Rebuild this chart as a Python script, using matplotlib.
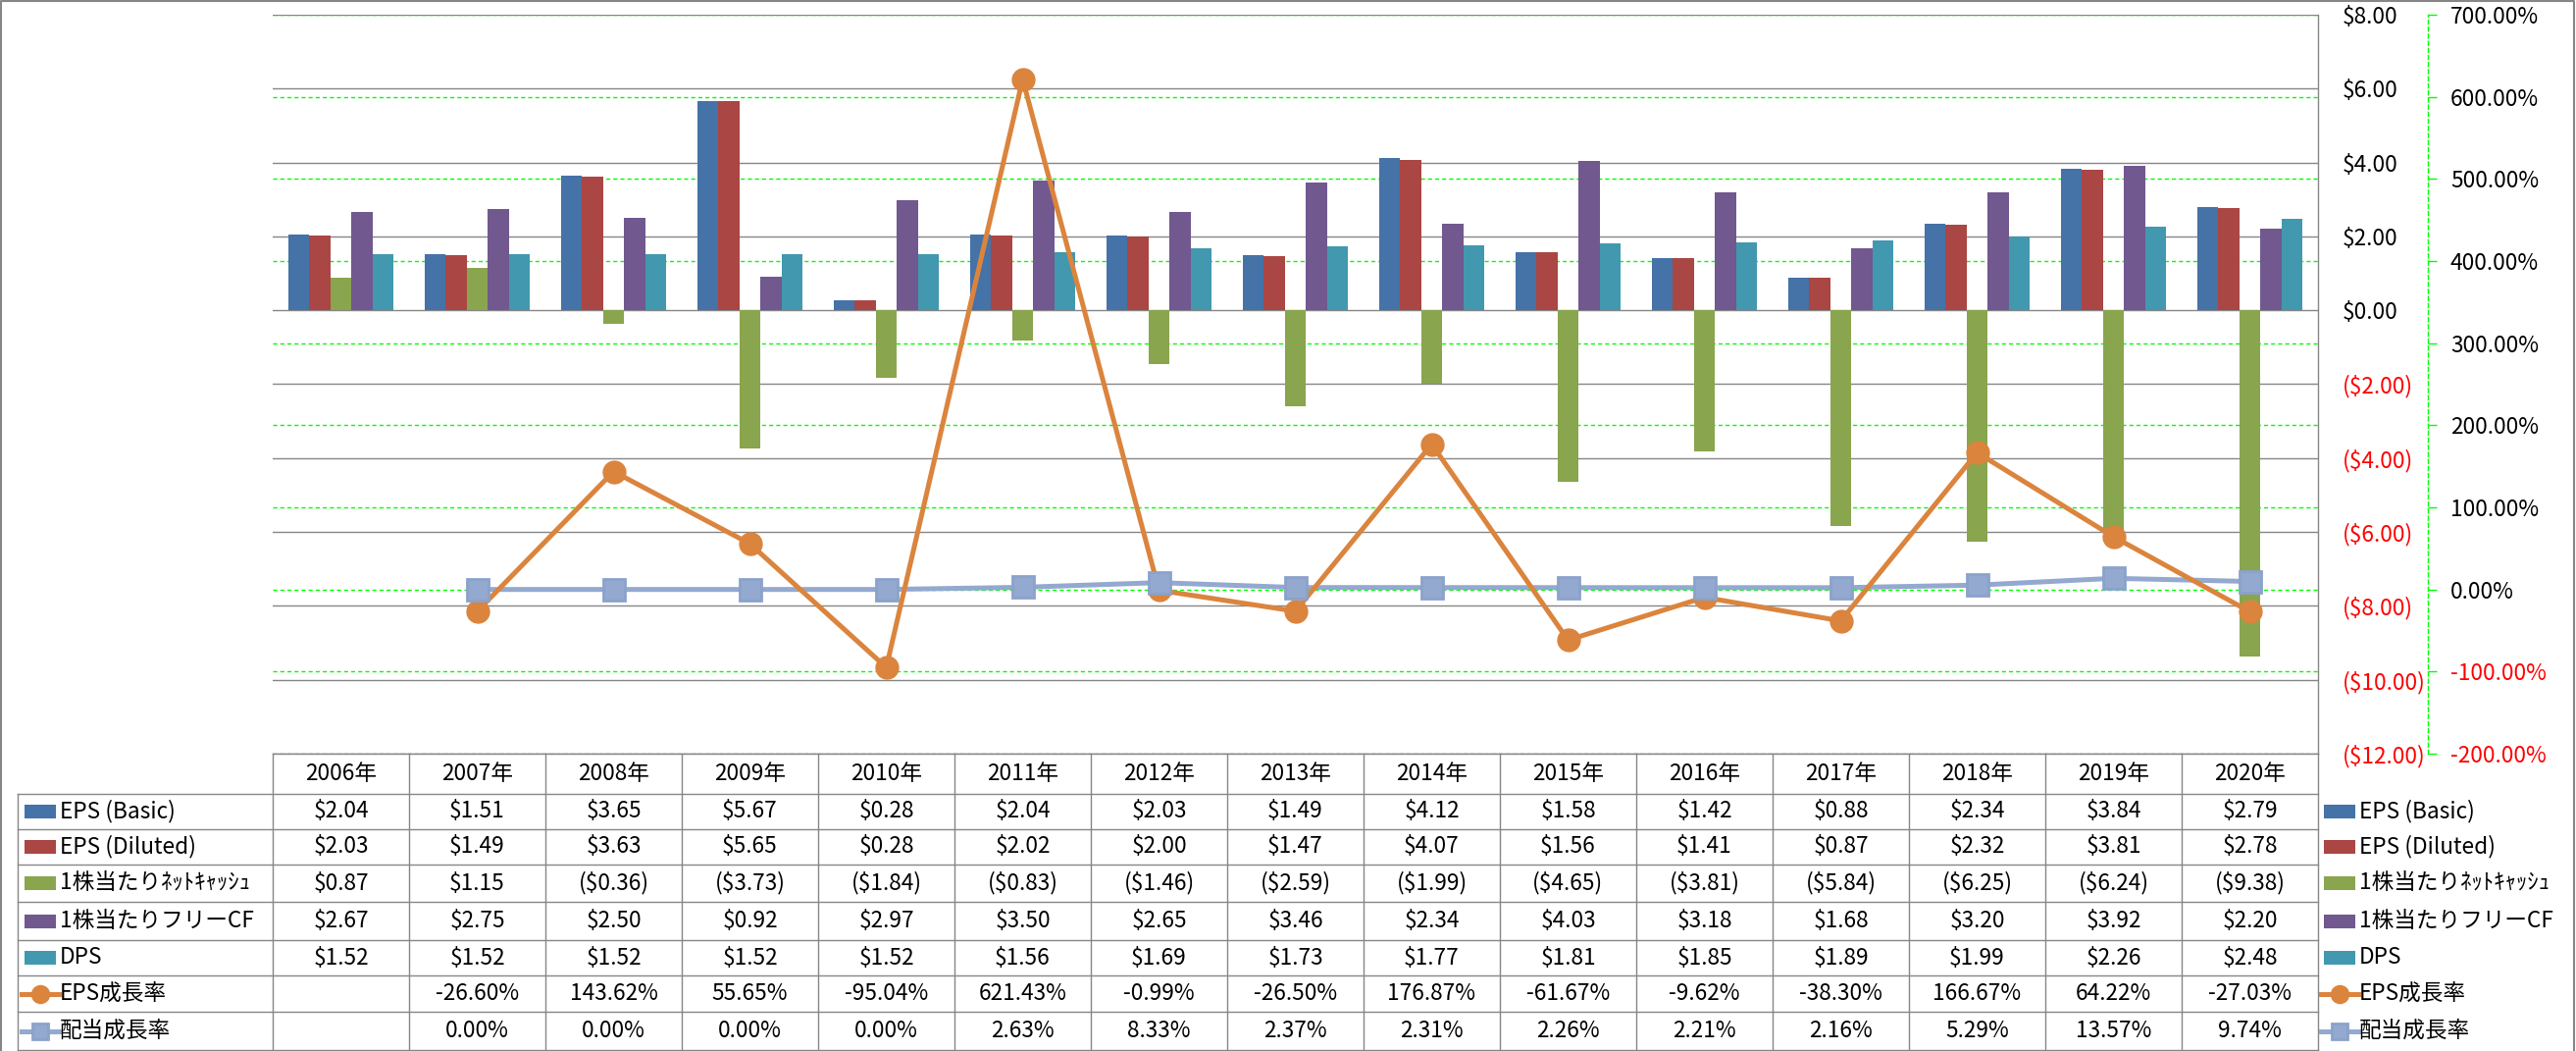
import numpy as np
import matplotlib
matplotlib.use('Agg')
import matplotlib.pyplot as plt
from matplotlib.patches import Rectangle
from matplotlib.lines import Line2D
from matplotlib.transforms import Bbox, TransformedBbox

plt.rcParams['font.family'] = ['Noto Sans CJK JP', 'DejaVu Sans']

years = ['2006年', '2007年', '2008年', '2009年', '2010年', '2011年', '2012年', '2013年',
         '2014年', '2015年', '2016年', '2017年', '2018年', '2019年', '2020年']
eps_basic = [2.04, 1.51, 3.65, 5.67, 0.28, 2.04, 2.03, 1.49, 4.12, 1.58, 1.42, 0.88, 2.34, 3.84, 2.79]
eps_diluted = [2.03, 1.49, 3.63, 5.65, 0.28, 2.02, 2.00, 1.47, 4.07, 1.56, 1.41, 0.87, 2.32, 3.81, 2.78]
net_cash = [0.87, 1.15, -0.36, -3.73, -1.84, -0.83, -1.46, -2.59, -1.99, -4.65, -3.81, -5.84, -6.25, -6.24, -9.38]
free_cf = [2.67, 2.75, 2.50, 0.92, 2.97, 3.50, 2.65, 3.46, 2.34, 4.03, 3.18, 1.68, 3.20, 3.92, 2.20]
dps = [1.52, 1.52, 1.52, 1.52, 1.52, 1.56, 1.69, 1.73, 1.77, 1.81, 1.85, 1.89, 1.99, 2.26, 2.48]
eps_growth = [None, -26.60, 143.62, 55.65, -95.04, 621.43, -0.99, -26.50, 176.87, -61.67, -9.62, -38.30, 166.67, 64.22, -27.03]
div_growth = [None, 0.00, 0.00, 0.00, 0.00, 2.63, 8.33, 2.37, 2.31, 2.26, 2.21, 2.16, 5.29, 13.57, 9.74]

bar_names = ['EPS (Basic)', 'EPS (Diluted)', '1株当たりﾈｯﾄｷｬｯｼｭ', '1株当たりフリーCF', 'DPS']
bar_data = [eps_basic, eps_diluted, net_cash, free_cf, dps]
bar_colors = ['#4572A7', '#AA4643', '#89A54E', '#71588F', '#4198AF']
line_names = ['EPS成長率', '配当成長率']
orange = '#DB843D'
lblue = '#93A9CF'
grid_gray = '#868686'
green = '#00FF00'
FS = 16.3

W, H = 2626, 1071
fig = plt.figure(figsize=(W / 100, H / 100), dpi=100)

# plot area in pixels
PL, PR, PT, PB = 278, 2363, 15, 768
rect = [PL / W, 1 - PB / H, (PR - PL) / W, (PB - PT) / H]

x = np.arange(len(years))

# secondary axis (percent) - only grid / axis, sits at the back
ax_g = fig.add_axes(rect)
ax_g.set_zorder(0)
ax_g.set_xlim(-0.5, len(years) - 0.5)
ax_g.set_ylim(-200, 700)
pct_ticks = list(range(-200, 701, 100))
ax_g.set_yticks(pct_ticks, ['%.2f%%' % t for t in pct_ticks])
ax_g.set_xticks([])
ax_g.yaxis.tick_right()
ax_g.yaxis.grid(True, color=green, linestyle=(0, (3, 2.2)), lw=1)
for s in ['left', 'top', 'bottom']:
    ax_g.spines[s].set_visible(False)
ax_g.spines['right'].set_position(('outward', 80.6))
ax_g.spines['right'].set_color(green)
ax_g.spines['right'].set_linestyle((0, (3, 2.2)))
ax_g.spines['right'].set_linewidth(1)
ax_g.tick_params(axis='y', length=6.5, color=green, width=1, pad=10, labelsize=FS)
for t, lab in zip(pct_ticks, ax_g.get_yticklabels()):
    lab.set_color('red' if t < 0 else 'black')

# primary axis (dollars) with bars
ax = fig.add_axes(rect)
ax.set_zorder(1)
ax.patch.set_visible(False)
ax.set_xlim(-0.5, len(years) - 0.5)
ax.set_ylim(-12, 8)
usd_ticks = list(range(-12, 9, 2))
ax.set_yticks(usd_ticks, [('($%.2f)' % -t) if t < 0 else ('$%.2f' % t) for t in usd_ticks])
ax.set_xticks([])
ax.yaxis.tick_right()
ax.set_axisbelow(True)
ax.yaxis.grid(True, color=grid_gray, lw=1)
for s in ['left', 'top', 'bottom']:
    ax.spines[s].set_visible(False)
ax.spines['right'].set_color(grid_gray)
ax.spines['right'].set_linewidth(1)
ax.tick_params(axis='y', length=0, pad=18, labelsize=FS)
for t, lab in zip(usd_ticks, ax.get_yticklabels()):
    lab.set_color('red' if t < 0 else 'black')

w = 0.154
for k in range(5):
    ax.bar(x + (k - 2) * w, bar_data[k], w, color=bar_colors[k], zorder=2)

# growth lines on the percent scale
ax2 = fig.add_axes(rect)
ax2.set_zorder(2)
ax2.patch.set_visible(False)
ax2.set_xlim(-0.5, len(years) - 0.5)
ax2.set_ylim(-200, 700)
ax2.axis('off')
xs = x[1:]
ax2.plot(xs, div_growth[1:], color=lblue, lw=3.6, zorder=2, solid_capstyle='round')
ax2.plot(xs, eps_growth[1:], color=orange, lw=3.6, zorder=3, solid_capstyle='round')
ax2.plot(xs, eps_growth[1:], ls='none', marker='o', ms=16.5, color=orange, zorder=4)
ax2.plot(xs, div_growth[1:], ls='none', marker='s', ms=15.5, mfc=lblue, mec='#8BA2CB',
         mew=2, zorder=5)

# canvas in pixel coordinates for the data table and legend
axc = fig.add_axes([0, 0, 1, 1])
axc.set_zorder(3)
axc.patch.set_visible(False)
axc.set_xlim(0, W)
axc.set_ylim(H, 0)
axc.axis('off')

row_edges = [768, 809, 845, 881, 919, 958, 994, 1031, 1070]
col_w = (PR - PL) / len(years)
col_edges = [PL + col_w * k for k in range(len(years) + 1)]
TL = 18

axc.plot([PL, PR], [row_edges[0], row_edges[0]], color=grid_gray, lw=1)
for y in row_edges[1:]:
    axc.plot([TL, PR], [y, y], color=grid_gray, lw=1)
axc.plot([TL, TL], [row_edges[1], row_edges[-1]], color=grid_gray, lw=1)
for cx in col_edges:
    axc.plot([cx, cx], [row_edges[0], row_edges[-1]], color=grid_gray, lw=1)

# header
for i, yr in enumerate(years):
    axc.text(PL + col_w * (i + 0.5), (row_edges[0] + row_edges[1]) / 2, yr,
             ha='center', va='center', fontsize=FS)


def usd(v):
    return '($%.2f)' % -v if v < 0 else '$%.2f' % v


rows = [[usd(v) for v in d] for d in bar_data]
rows.append(['' if v is None else '%.2f%%' % v for v in eps_growth])
rows.append(['' if v is None else '%.2f%%' % v for v in div_growth])

names = bar_names + line_names
clip = TransformedBbox(Bbox([[TL, row_edges[0]], [PL, row_edges[-1]]]), axc.transData)


def legend_key(x0, yc, k):
    if k < 5:
        axc.add_patch(Rectangle((x0 + 3, yc - 7), 32, 14, color=bar_colors[k], lw=0))
    elif k == 5:
        axc.add_line(Line2D([x0, x0 + 38], [yc, yc], color=orange, lw=3.6))
        axc.add_line(Line2D([x0 + 19], [yc], marker='o', ms=13, color=orange))
    else:
        axc.add_line(Line2D([x0, x0 + 38], [yc, yc], color=lblue, lw=3.6))
        axc.add_line(Line2D([x0 + 19], [yc], marker='s', ms=12, mfc=lblue, mec='#8BA2CB', mew=2))


for r in range(7):
    yc = (row_edges[r + 1] + row_edges[r + 2]) / 2
    for i, s in enumerate(rows[r]):
        axc.text(PL + col_w * (i + 0.5), yc, s, ha='center', va='center', fontsize=FS)
    # row label inside the table
    legend_key(TL + 4, yc, r)
    t = axc.text(TL + 43, yc, names[r], ha='left', va='center', fontsize=FS)
    t.set_clip_box(clip)
    # legend on the right
    legend_key(PR + 3, yc, r)
    axc.text(PR + 42, yc, names[r], ha='left', va='center', fontsize=FS)

# chart border
axc.plot([1, 1, W - 2, W - 2], [H, 1, 1, H], color=grid_gray, lw=1.5)

fig.savefig('out.png', dpi=100)
